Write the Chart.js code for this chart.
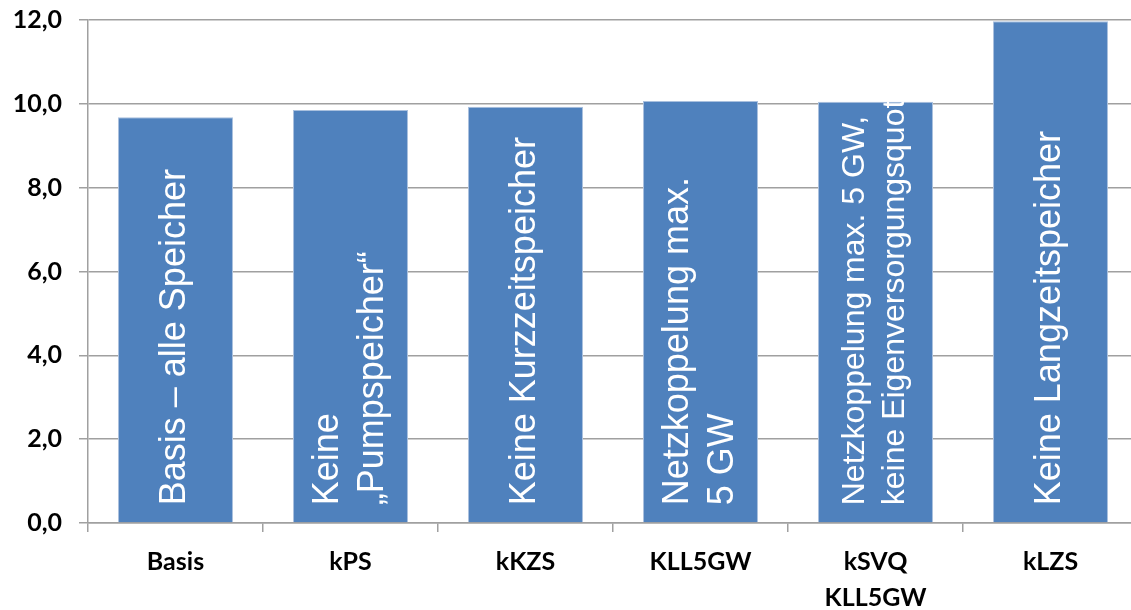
<!DOCTYPE html>
<html>
<head>
<meta charset="utf-8">
<script src="https://cdn.jsdelivr.net/npm/chart.js@4"></script>
<style>
  html, body { margin: 0; padding: 0; background: #ffffff; overflow: hidden; }
  #wrap { width: 1150px; height: 610px; }
</style>
</head>
<body>
<div id="wrap"><canvas id="chart" width="1150" height="610"></canvas></div>
<script>
// Scenario short names on the x axis
const categories = ["Basis", "kPS", "kKZS", "KLL5GW", ["kSVQ", "KLL5GW"], "kLZS"];
// Value per scenario
const values = [9.68, 9.85, 9.93, 10.07, 10.05, 11.97];
// Long description written inside each bar
const barTexts = [
  ["Basis – alle Speicher"],
  ["Keine", "„Pumpspeicher“"],
  ["Keine Kurzzeitspeicher"],
  ["Netzkoppelung max.", "5 GW"],
  ["Netzkoppelung max. 5 GW,", "keine Eigenversorgungsquote"],
  ["Keine Langzeitspeicher"],
];
const yTicks = [0, 2, 4, 6, 8, 10, 12];

const gridGray = "#a0a0a0";

// Writes the rotated description text inside every bar
const barTextPlugin = {
  id: "barText",
  afterDatasetsDraw(chart) {
    const ctx = chart.ctx;
    const meta = chart.getDatasetMeta(0);
    meta.data.forEach((bar, i) => {
      const lines = barTexts[i];
      const left = bar.x - bar.width / 2;
      const top = bar.y;
      const h = bar.base - bar.y;
      const startPad = 17;
      const avail = h - startPad - 4;

      // shrink the font when the first line would run past the bar top
      let size = 36;
      ctx.font = `1px "Liberation Sans", Arial, sans-serif`;
      const unit = ctx.measureText(lines[0]).width;
      if (unit * size > avail) size = Math.floor(avail / unit);
      const lh = size * 1.25;

      ctx.save();
      ctx.beginPath();
      ctx.rect(left, top, bar.width, h);
      ctx.clip();
      ctx.translate(bar.x, bar.base - startPad);
      ctx.rotate(-Math.PI / 2);
      ctx.fillStyle = "#ffffff";
      ctx.font = `${size}px "Liberation Sans", Arial, sans-serif`;
      ctx.textAlign = "left";
      ctx.textBaseline = "middle";
      lines.forEach((line, j) => {
        ctx.fillText(line, 0, (j - (lines.length - 1) / 2) * lh);
      });
      ctx.restore();
    });
  },
};

const ctx = document.getElementById("chart").getContext("2d");

new Chart(ctx, {
  type: "bar",
  data: {
    labels: categories,
    datasets: [
      {
        data: values,
        backgroundColor: "#4f81bd",
        borderColor: "#a9c0de",
        borderWidth: 1,
        barPercentage: 0.657,
        categoryPercentage: 1.0,
      },
    ],
  },
  options: {
    responsive: false,
    animation: false,
    layout: { padding: { top: 8, right: 12, left: 0, bottom: 0 } },
    plugins: {
      legend: { display: false },
      tooltip: { enabled: false },
    },
    scales: {
      x: {
        offset: true,
        grid: {
          display: true,
          offset: true,
          drawOnChartArea: false,
          drawTicks: true,
          tickLength: 9,
          color: gridGray,
          lineWidth: 1.5,
        },
        border: { display: true, color: gridGray, width: 1.5 },
        ticks: {
          color: "#000000",
          font: { family: "Lato", weight: "bold", size: 25, lineHeight: 1.44 },
          padding: 12,
          maxRotation: 0,
          autoSkip: false,
        },
        afterFit(scale) {
          scale.height = 87;
        },
      },
      y: {
        min: 0,
        max: 12,
        afterBuildTicks(scale) {
          scale.ticks = yTicks.map((v) => ({ value: v }));
        },
        grid: {
          color: gridGray,
          lineWidth: 1.5,
          tickLength: 9,
        },
        border: { display: true, color: gridGray, width: 1.5 },
        ticks: {
          color: "#000000",
          // small line height keeps the top label from pushing the plot down
          font: { family: "Lato", weight: "bold", size: 25, lineHeight: 0.24 },
          padding: 17,
          callback: (v) => Number(v).toFixed(1).replace(".", ","),
        },
        afterFit(scale) {
          scale.width = 88;
        },
      },
    },
  },
  plugins: [barTextPlugin],
});
</script>
</body>
</html>
